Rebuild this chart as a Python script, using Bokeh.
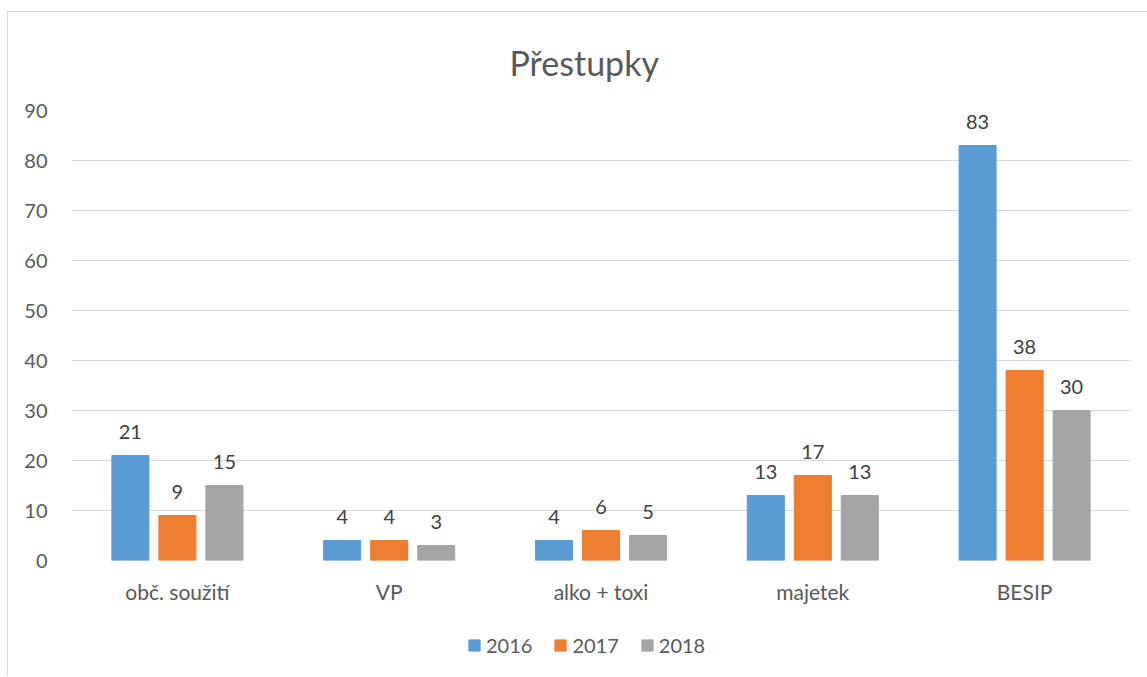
from bokeh.plotting import figure
from bokeh.layouts import column
from bokeh.models import (FactorRange, Range1d, ColumnDataSource, LabelSet, Legend,
                          LegendItem, SingleIntervalTicker)
from bokeh.core.properties import value
from bokeh.transform import dodge
from bokeh.embed import file_html
from bokeh.resources import INLINE

categories = ["obč. soužití", "VP", "alko + toxi", "majetek", "BESIP"]
years = ["2016", "2017", "2018"]
v2016 = [21, 4, 4, 13, 83]
v2017 = [9, 4, 6, 17, 38]
v2018 = [15, 3, 5, 13, 30]
title_text = "Přestupky"

colors = ["#5B9BD5", "#ED7D31", "#A5A5A5"]
offsets = [-0.222, 0.0, 0.222]
FONT = "Lato"
TXT = "#595959"
BORDER = "#D9D9D9"

src = ColumnDataSource(data=dict(cat=categories, v2016=v2016, v2017=v2017, v2018=v2018,
                                 t2016=[str(v) for v in v2016],
                                 t2017=[str(v) for v in v2017],
                                 t2018=[str(v) for v in v2018]))

W = 1139
p = figure(width=W, height=613, output_backend="svg", toolbar_location=None,
           x_range=FactorRange(*categories, range_padding=0), y_range=Range1d(0, 90),
           min_border_left=63, min_border_right=17, min_border_top=98, min_border_bottom=65)

p.title.text = title_text
p.title.align = "left"
p.title.offset = 438
p.title.standoff = 55
p.title.text_font = FONT
p.title.text_font_size = "34px"
p.title.text_font_style = "normal"
p.title.text_color = TXT

for y, c, o in zip(years, colors, offsets):
    p.vbar(x=dodge("cat", o, range=p.x_range), top="v" + y, width=0.175, source=src,
           fill_color=c, line_color=c, line_width=1)
    lbl = LabelSet(x=dodge("cat", o, range=p.x_range), y="v" + y, text="t" + y, source=src,
                   y_offset=17, text_align="center", text_baseline="alphabetic",
                   text_font=value(FONT), text_font_size=value("20px"),
                   text_color=value("#404040"))
    p.add_layout(lbl)

p.xgrid.grid_line_color = None
p.ygrid.grid_line_color = BORDER
p.ygrid.grid_line_width = 1
p.yaxis.ticker = SingleIntervalTicker(interval=10)
p.ygrid.ticker = SingleIntervalTicker(interval=10)

for ax in (p.xaxis, p.yaxis):
    ax.axis_line_color = None
    ax.major_tick_line_color = None
    ax.minor_tick_line_color = None
    ax.major_label_text_font = FONT
    ax.major_label_text_color = TXT
p.yaxis.major_label_text_font_size = "20px"
p.xaxis.major_label_text_font_size = "21px"
p.xaxis.major_label_standoff = 12
p.yaxis.major_label_standoff = 18
p.outline_line_color = None

# legend strip below the chart
lg = figure(width=W, height=51, output_backend="svg", toolbar_location=None,
            x_range=Range1d(0, 1), y_range=Range1d(0, 1),
            x_axis_location=None, y_axis_location=None,
            min_border=0, min_border_left=0, min_border_right=0,
            min_border_top=0, min_border_bottom=0)
lg.grid.visible = False
lg.outline_line_color = None
dummy = ColumnDataSource(data=dict(x=[-5.0], top=[-5.0]))
items = []
for y, c in zip(years, colors):
    r = lg.vbar(x="x", top="top", width=0.1, source=dummy, fill_color=c, line_color=c)
    items.append(LegendItem(label=y, renderers=[r]))
legend = Legend(items=items, orientation="horizontal", location=(396, 19),
                glyph_width=14, glyph_height=14, label_standoff=5, spacing=21,
                label_text_font=FONT, label_text_font_size="20px", label_text_color=TXT,
                border_line_color=None, background_fill_alpha=0, padding=0, margin=0)
lg.add_layout(legend)

layout = column(p, lg, spacing=0,
                styles={"margin-left": "7px", "margin-top": "11px",
                        "border-left": "1px solid " + BORDER,
                        "border-top": "1px solid " + BORDER})

open("out.html", "w").write(file_html(layout, INLINE))
